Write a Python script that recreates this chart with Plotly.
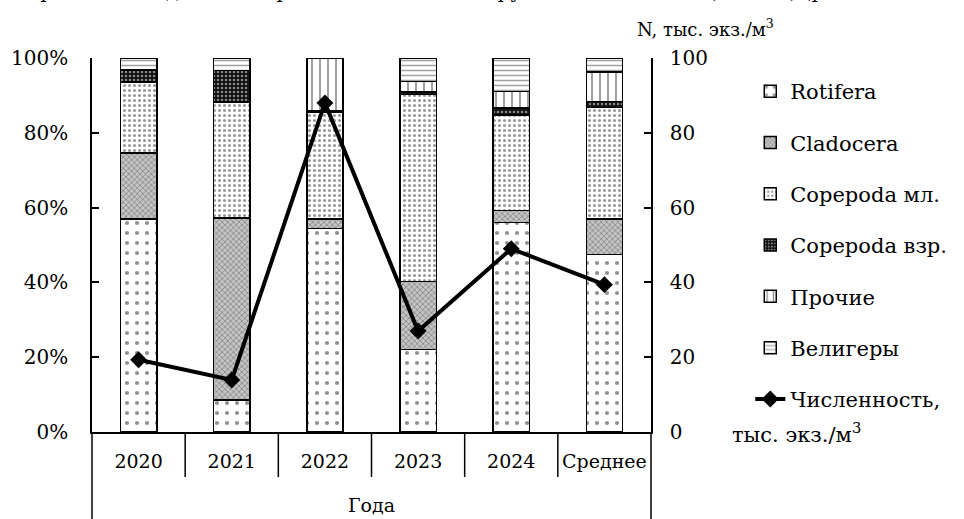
import plotly.graph_objects as go

categories = ["2020", "2021", "2022", "2023", "2024", "Среднее"]
rotifera = [57.0, 8.6, 54.4, 22.0, 56.0, 47.4]
cladocera = [17.6, 48.6, 2.6, 18.3, 3.2, 9.6]
copepoda_ml = [19.0, 31.0, 28.5, 50.0, 25.6, 29.7]
copepoda_vzr = [3.2, 8.5, 0.5, 0.6, 1.8, 1.7]
prochie = [0.0, 0.0, 14.0, 2.8, 4.4, 7.9]
veligery = [3.2, 3.3, 0.0, 6.3, 9.0, 3.7]
abundance = [19.3, 13.9, 88.0, 27.0, 49.0, 39.4]

series_names = ["Rotifera", "Cladocera", "Copepoda мл.", "Copepoda взр.", "Прочие", "Велигеры"]
series_values = [rotifera, cladocera, copepoda_ml, copepoda_vzr, prochie, veligery]
left_ticks = [0, 20, 40, 60, 80, 100]
left_tick_labels = ["0%", "20%", "40%", "60%", "80%", "100%"]
right_ticks = [0, 20, 40, 60, 80, 100]

FONT = "DejaVu Serif, Liberation Serif, serif"

patterns = [
    dict(shape=".", fgcolor="#222", bgcolor="white", size=10, solidity=0.14, fillmode="overlay"),
    dict(shape="x", fgcolor="#444", bgcolor="#c4c4c4", size=4, solidity=0.35, fillmode="overlay"),
    dict(shape=".", fgcolor="#333", bgcolor="white", size=5, solidity=0.3, fillmode="overlay"),
    dict(shape=".", fgcolor="white", bgcolor="#111", size=4, solidity=0.3, fillmode="overlay"),
    dict(shape="|", fgcolor="#111", bgcolor="white", size=8, solidity=0.2, fillmode="overlay"),
    dict(shape="-", fgcolor="#444", bgcolor="white", size=5, solidity=0.3, fillmode="overlay"),
]
bg = ["white", "#c4c4c4", "white", "#111", "white", "white"]

fig = go.Figure()
for i, (name, vals) in enumerate(zip(series_names, series_values)):
    fig.add_trace(go.Bar(
        x=categories, y=vals, name=name, width=0.39,
        marker=dict(color=bg[i], pattern=patterns[i], line=dict(color="black", width=1.5)),
        legendgroup=f"g{i}", yaxis="y",
    ))

fig.add_trace(go.Scatter(
    x=categories, y=abundance, name="Численность,", yaxis="y2",
    mode="lines+markers", line=dict(color="black", width=4),
    marker=dict(symbol="diamond", size=13, color="black"),
    legendgroup="g6",
))

H_PLOT = 519 - 58 - 87
shapes = []
for b in range(len(categories) - 1):
    shapes.append(dict(type="line", xref="x", yref="paper", x0=b + 0.5, x1=b + 0.5,
                       y0=0, y1=-45 / H_PLOT, line=dict(color="black", width=1.5)))
for xp in (0, 1):
    shapes.append(dict(type="line", xref="paper", yref="paper", x0=xp, x1=xp,
                       y0=0, y1=-87 / H_PLOT, line=dict(color="black", width=1.5)))

annotations = [
    dict(text="Года", x=0.5, y=-(505 - 432) / H_PLOT, xref="paper", yref="paper",
         showarrow=False, font=dict(family=FONT, size=19, color="black"),
         xanchor="center", yanchor="middle"),
    dict(text="N, тыс. экз./м<sup>3</sup>", x=(729 - 92) / 580, y=1 + (58 - 28) / H_PLOT,
         xref="paper", yref="paper", showarrow=False, xanchor="center",
         font=dict(family=FONT, size=18, color="black"), yanchor="middle"),
    dict(text="тыс. экз./м<sup>3</sup>", x=(754 - 92) / 580, y=(432 - 433) / H_PLOT,
         xref="paper", yref="paper", showarrow=False, xanchor="left",
         font=dict(family=FONT, size=21, color="black"), yanchor="middle"),
    dict(text="Сравнение и динамика развития основных групп зоопланктона (табл. 2) (рис.",
         x=(20 - 92) / 580, y=1 + (58 + 9) / H_PLOT, xref="paper", yref="paper", showarrow=False,
         xanchor="left", yanchor="middle", font=dict(family=FONT, size=20, color="black")),
]

fig.update_layout(
    width=964, height=519,
    margin=dict(l=92, r=292, t=58, b=87),
    paper_bgcolor="white", plot_bgcolor="white",
    barmode="stack",
    font=dict(family=FONT, size=19, color="black"),
    xaxis=dict(type="category", showline=True, linecolor="black", linewidth=1.5,
               ticks="", showgrid=False, zeroline=False, ticklabelstandoff=11,
               tickfont=dict(family=FONT, size=19, color="black")),
    yaxis=dict(range=[0, 100], tickmode="array", tickvals=left_ticks, ticktext=left_tick_labels,
               ticks="inside", ticklen=7, tickwidth=1.5, tickcolor="black", showline=True,
               linecolor="black", linewidth=1.5, showgrid=False, zeroline=False,
               ticklabelstandoff=18, tickfont=dict(family=FONT, size=20, color="black")),
    yaxis2=dict(range=[0, 100], tickmode="array", tickvals=right_ticks, overlaying="y",
                side="right", ticks="inside", ticklen=7, tickwidth=1.5, tickcolor="black",
                showline=True, linecolor="black", linewidth=1.5, showgrid=False,
                zeroline=False, ticklabelstandoff=13,
                tickfont=dict(family=FONT, size=20, color="black")),
    legend=dict(x=(775 - 92) / 580, y=1 - (71 - 58) / H_PLOT, xanchor="left", yanchor="top",
                traceorder="grouped", tracegroupgap=21, bgcolor="rgba(0,0,0,0)",
                font=dict(family=FONT, size=21, color="black")),
    shapes=shapes, annotations=annotations,
)

fig.write_html("out.html", config={"displayModeBar": False},
               post_script="document.body.style.margin='0';document.body.style.padding='0';")
